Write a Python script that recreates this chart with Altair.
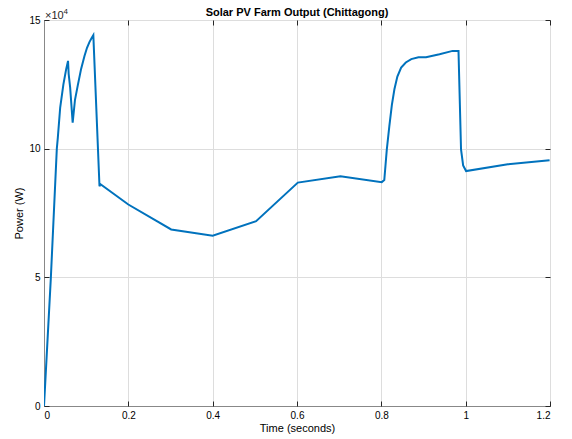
import altair as alt
import pandas as pd

# Time (s) and power (x10^4 W)
time_s = [0.000, 0.0162, 0.0304, 0.0328, 0.0384, 0.046, 0.0526, 0.057,
          0.0585, 0.062, 0.068, 0.0735, 0.080, 0.088, 0.096, 0.102, 0.108,
          0.113, 0.117,
          0.1316, 0.134,
          0.200, 0.3016, 0.400, 0.503, 0.602, 0.703, 0.801, 0.807,
          0.813, 0.819, 0.825, 0.831, 0.838, 0.847, 0.858, 0.871, 0.888, 0.906,
          0.938, 0.969, 0.983,
          0.989, 0.994, 1.001, 1.100, 1.199]
power_1e4 = [0.0, 4.97, 10.0, 10.43, 11.6, 12.5, 13.09, 13.41,
             12.9, 12.38, 11.01, 11.9, 12.45, 13.1, 13.6, 13.92, 14.15,
             14.3, 14.41,
             8.54, 8.62,
             7.83, 6.86, 6.62, 7.18, 8.68, 8.93, 8.70, 8.78,
             9.97, 10.88, 11.7, 12.31, 12.8, 13.15, 13.35, 13.48, 13.55, 13.55,
             13.67, 13.80, 13.80,
             9.97, 9.35, 9.13, 9.39, 9.55]

x_ticks = [0, 0.2, 0.4, 0.6, 0.8, 1.0, 1.2]
y_ticks = [0, 5, 10, 15]
title_text = "Solar PV Farm Output (Chittagong)"

df = pd.DataFrame({"t": time_s, "p": power_1e4})

FONT = "Liberation Sans"
AX = "#262626"

xs = alt.Scale(domain=[0, 1.2], nice=False, zero=False)
ys = alt.Scale(domain=[0, 15], nice=False)

line = alt.Chart(df).mark_line(color="#0072BD", strokeWidth=2, clip=True).encode(
    x=alt.X("t:Q", scale=xs,
            axis=alt.Axis(values=x_ticks, title="Time (seconds)", grid=True,
                          ticks=False, labelPadding=4, titlePadding=2,
                          titleFontWeight="normal", titleFont=FONT, titleFontSize=11,
                          labelExpr="datum.value == 1 ? '1' : format(datum.value, '.1~f')")),
    y=alt.Y("p:Q", scale=ys,
            axis=alt.Axis(values=y_ticks, title="Power (W)", grid=True,
                          ticks=False, labelPadding=4, titlePadding=4,
                          titleFontWeight="normal", titleFont=FONT, titleFontSize=11)),
)

ticks_bl = alt.Chart(df).mark_line(opacity=0).encode(
    x=alt.X("t:Q", scale=xs,
            axis=alt.Axis(values=x_ticks, orient="bottom", offset=-5, tickSize=5,
                          labels=False, domain=False, grid=False, title=None,
                          tickColor=AX)),
    y=alt.Y("p:Q", scale=ys,
            axis=alt.Axis(values=y_ticks, orient="left", offset=-5, tickSize=5,
                          labels=False, domain=False, grid=False, title=None,
                          tickColor=AX)),
)

ticks_tr = alt.Chart(df).mark_line(opacity=0).encode(
    x=alt.X("t:Q", scale=xs,
            axis=alt.Axis(values=x_ticks, orient="top", offset=-5, tickSize=5,
                          labels=False, domain=False, grid=False, title=None,
                          tickColor=AX)),
    y=alt.Y("p:Q", scale=ys,
            axis=alt.Axis(values=y_ticks, orient="right", offset=-5, tickSize=5,
                          labels=False, domain=False, grid=False, title=None,
                          tickColor=AX)),
)

title_mark = alt.Chart(pd.DataFrame({"s": [title_text]})).mark_text(
    align="center", baseline="alphabetic", font=FONT, fontSize=11,
    fontWeight="bold", color="#000000"
).encode(text="s:N", x=alt.value(253), y=alt.value(-4))

exp_base = alt.Chart(pd.DataFrame({"s": ["×10"]})).mark_text(
    align="left", baseline="alphabetic", font=FONT, fontSize=11, color=AX
).encode(text="s:N", x=alt.value(1), y=alt.value(-1))

exp_pow = alt.Chart(pd.DataFrame({"s": ["4"]})).mark_text(
    align="left", baseline="alphabetic", font=FONT, fontSize=8, color=AX
).encode(text="s:N", x=alt.value(19.5), y=alt.value(-6))

chart = alt.layer(line, ticks_bl, ticks_tr, title_mark, exp_base, exp_pow).resolve_axis(
    x="independent", y="independent"
).properties(
    width=506, height=386,
    padding={"left": 44, "top": 20, "right": 22, "bottom": 33},
    autosize=alt.AutoSizeParams(type="none"),
).configure_view(
    stroke=AX, strokeWidth=1
).configure_axis(
    labelFont=FONT, titleFont=FONT, labelFontSize=10.5, titleFontSize=11,
    labelColor=AX, titleColor=AX, domainColor=AX, titleFontWeight="normal",
    gridColor="#dcdcdc", gridWidth=1
).configure(background="white")

chart.save("out.html", embed_options={"renderer": "svg", "actions": False})
